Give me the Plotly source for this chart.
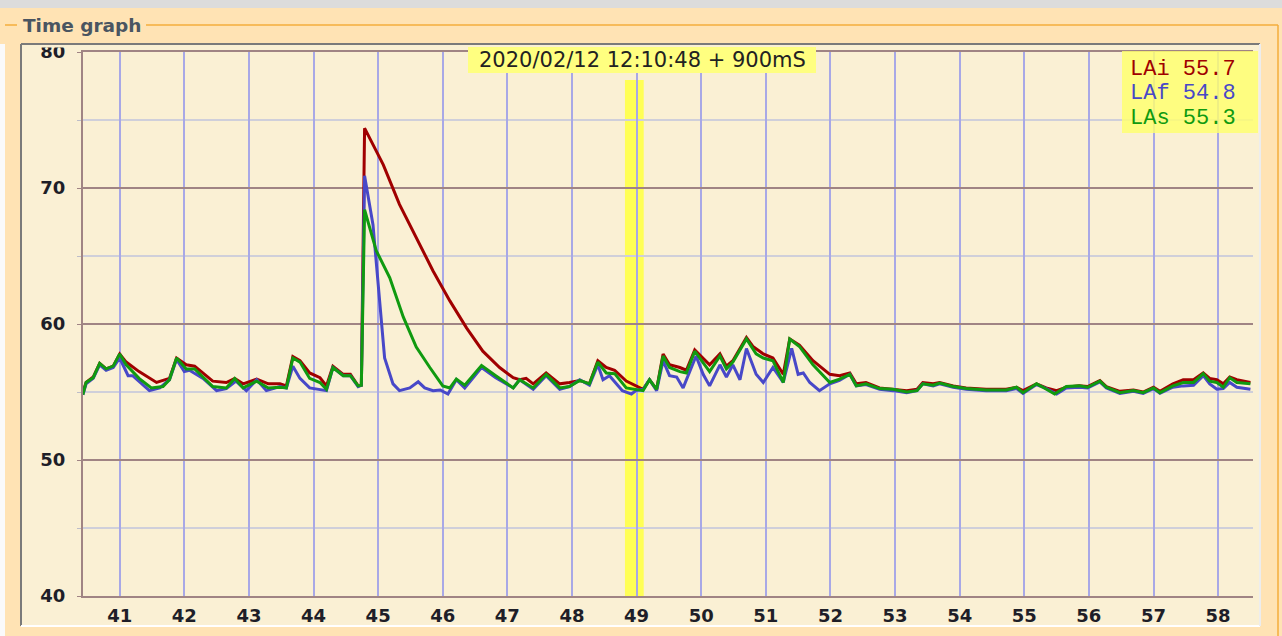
import plotly.graph_objects as go

# ---------------- data ----------------
lai_t = [40.43, 40.48, 40.59, 40.69, 40.79, 40.90, 41.00, 41.10, 41.30, 41.57, 41.77, 41.88,
         42.03, 42.16, 42.44, 42.65, 42.78, 42.91, 43.12, 43.30, 43.48, 43.58, 43.68, 43.79,
         43.94, 44.10, 44.20, 44.30, 44.46, 44.57, 44.69, 44.74, 44.79, 45.08, 45.33, 45.59,
         45.85, 46.11, 46.37, 46.62, 46.88, 47.09, 47.19, 47.29, 47.40, 47.60, 47.81, 47.96,
         48.12, 48.27, 48.40, 48.53, 48.66, 48.84, 48.99, 49.10, 49.20, 49.31, 49.41, 49.51,
         49.67, 49.77, 49.90, 50.03, 50.13, 50.29, 50.39, 50.49, 50.70, 50.80, 50.96, 51.11,
         51.27, 51.37, 51.52, 51.73, 51.99, 52.14, 52.30, 52.40, 52.55, 52.76, 52.97, 53.18,
         53.34, 53.43, 53.59, 53.69, 53.90, 54.10, 54.41, 54.72, 54.88, 54.98, 55.19, 55.34,
         55.50, 55.65, 55.85, 55.98, 56.17, 56.27, 56.48, 56.69, 56.84, 57.00, 57.10, 57.30,
         57.46, 57.62, 57.77, 57.87, 57.98, 58.08, 58.18, 58.29, 58.50]
lai_v = [55.0, 55.7, 56.1, 57.1, 56.7, 56.9, 57.8, 57.2, 56.5, 55.7, 56.0, 57.5,
         57.0, 56.9, 55.8, 55.7, 56.0, 55.6, 55.95, 55.6, 55.6, 55.45, 57.6, 57.3,
         56.4, 56.05, 55.45, 56.9, 56.3, 56.3, 55.45, 55.5, 74.4, 71.7, 68.8, 66.35,
         63.9, 61.7, 59.7, 58.0, 56.8, 56.05, 55.9, 56.0, 55.6, 56.4, 55.6, 55.7,
         55.85, 55.6, 57.3, 56.8, 56.6, 55.8, 55.45, 55.2, 55.9, 55.2, 57.8, 57.0,
         56.8, 56.6, 58.1, 57.5, 57.0, 57.8, 56.9, 57.3, 59.0, 58.35, 57.8, 57.5,
         56.3, 58.9, 58.45, 57.3, 56.3, 56.2, 56.4, 55.6, 55.7, 55.3, 55.2, 55.1,
         55.2, 55.7, 55.6, 55.7, 55.45, 55.3, 55.2, 55.2, 55.35, 55.1, 55.6, 55.3,
         55.1, 55.35, 55.45, 55.4, 55.85, 55.4, 55.05, 55.15, 55.0, 55.35, 55.05, 55.6,
         55.9, 55.9, 56.4, 56.0, 55.9, 55.6, 56.1, 55.9, 55.7]

laf_t = [40.43, 40.48, 40.59, 40.69, 40.79, 40.90, 41.00, 41.13, 41.20, 41.46, 41.62, 41.77,
         41.88, 42.00, 42.08, 42.29, 42.50, 42.65, 42.80, 42.96, 43.12, 43.27, 43.48, 43.58,
         43.68, 43.79, 43.94, 44.10, 44.20, 44.30, 44.46, 44.57, 44.69, 44.74, 44.79, 44.92,
         45.02, 45.10, 45.23, 45.33, 45.49, 45.62, 45.72, 45.85, 45.96, 46.08, 46.21, 46.34,
         46.60, 46.82, 47.09, 47.19, 47.40, 47.60, 47.81, 47.96, 48.12, 48.27, 48.40, 48.48,
         48.58, 48.78, 48.92, 48.99, 49.10, 49.20, 49.31, 49.41, 49.51, 49.62, 49.72, 49.92,
         50.03, 50.13, 50.29, 50.39, 50.49, 50.60, 50.70, 50.85, 50.96, 51.11, 51.27, 51.40,
         51.50, 51.58, 51.68, 51.83, 51.99, 52.14, 52.30, 52.40, 52.55, 52.76, 52.97, 53.18,
         53.34, 53.43, 53.59, 53.69, 53.90, 54.10, 54.41, 54.72, 54.88, 54.98, 55.19, 55.34,
         55.50, 55.65, 55.85, 55.98, 56.17, 56.27, 56.48, 56.69, 56.84, 57.00, 57.10, 57.30,
         57.46, 57.62, 57.77, 57.87, 57.98, 58.08, 58.18, 58.29, 58.50]
laf_v = [54.8, 55.6, 56.0, 57.0, 56.6, 56.8, 57.5, 56.2, 56.2, 55.1, 55.3, 55.9,
         57.4, 56.5, 56.6, 56.0, 55.1, 55.25, 55.8, 55.1, 55.9, 55.1, 55.4, 55.3,
         56.9, 56.0, 55.3, 55.2, 55.1, 56.8, 56.2, 56.2, 55.4, 55.5, 70.9, 67.3,
         61.9, 57.5, 55.6, 55.1, 55.3, 55.75, 55.3, 55.1, 55.15, 54.85, 55.9, 55.3,
         56.8, 56.05, 55.3, 55.9, 55.2, 56.2, 55.2, 55.4, 55.9, 55.5, 57.0, 55.9,
         56.2, 55.1, 54.85, 55.1, 55.2, 55.9, 55.1, 57.3, 56.2, 56.1, 55.3, 57.65,
         56.3, 55.45, 57.0, 56.1, 57.0, 55.9, 58.2, 56.3, 55.7, 56.8, 55.7, 58.2,
         56.3, 56.4, 55.7, 55.1, 55.6, 55.85, 56.3, 55.45, 55.55, 55.2, 55.1, 54.95,
         55.1, 55.6, 55.45, 55.6, 55.35, 55.2, 55.1, 55.1, 55.25, 54.9, 55.55, 55.25,
         54.85, 55.3, 55.35, 55.3, 55.75, 55.3, 54.9, 55.05, 54.9, 55.25, 54.9, 55.35,
         55.45, 55.5, 56.2, 55.6, 55.2, 55.25, 55.7, 55.35, 55.2]

las_t = [40.43, 40.48, 40.59, 40.69, 40.79, 40.90, 41.00, 41.10, 41.30, 41.49, 41.67, 41.77,
         41.88, 42.03, 42.16, 42.44, 42.65, 42.78, 42.91, 43.12, 43.30, 43.48, 43.58, 43.68,
         43.79, 43.94, 44.10, 44.20, 44.30, 44.46, 44.57, 44.69, 44.74, 44.79, 44.97, 45.18,
         45.39, 45.59, 45.80, 46.00, 46.11, 46.21, 46.34, 46.60, 46.82, 47.09, 47.19, 47.40,
         47.60, 47.81, 47.96, 48.12, 48.27, 48.40, 48.53, 48.66, 48.84, 48.99, 49.10, 49.20,
         49.31, 49.41, 49.51, 49.67, 49.77, 49.90, 50.03, 50.13, 50.29, 50.39, 50.49, 50.70,
         50.85, 50.96, 51.11, 51.27, 51.37, 51.52, 51.73, 51.99, 52.14, 52.30, 52.40, 52.55,
         52.76, 52.97, 53.18, 53.34, 53.43, 53.59, 53.69, 53.90, 54.10, 54.41, 54.72, 54.88,
         54.98, 55.19, 55.29, 55.47, 55.65, 55.85, 55.98, 56.17, 56.27, 56.48, 56.69, 56.84,
         57.00, 57.10, 57.30, 57.46, 57.62, 57.77, 57.87, 57.98, 58.08, 58.18, 58.29, 58.50]
las_v = [54.8, 55.7, 56.05, 57.1, 56.7, 56.9, 57.8, 57.0, 56.0, 55.3, 55.4, 55.9,
         57.5, 56.7, 56.7, 55.4, 55.3, 56.0, 55.3, 55.8, 55.3, 55.35, 55.3, 57.5,
         57.2, 56.0, 55.7, 55.2, 56.8, 56.2, 56.2, 55.45, 55.5, 68.4, 65.4, 63.4,
         60.5, 58.3, 56.8, 55.45, 55.3, 55.95, 55.5, 56.95, 56.2, 55.3, 55.9, 55.3,
         56.3, 55.3, 55.4, 55.85, 55.6, 57.2, 56.4, 56.35, 55.3, 55.2, 55.1, 55.9,
         55.2, 57.65, 56.8, 56.5, 56.4, 58.0, 57.1, 56.5, 57.65, 56.7, 57.2, 58.9,
         57.8, 57.5, 57.3, 55.7, 58.9, 58.35, 57.0, 55.7, 55.95, 56.3, 55.45, 55.6,
         55.25, 55.2, 55.0, 55.1, 55.6, 55.5, 55.65, 55.4, 55.25, 55.15, 55.15, 55.35,
         54.95, 55.6, 55.35, 54.85, 55.4, 55.45, 55.35, 55.8, 55.35, 54.95, 55.1, 54.95,
         55.3, 54.95, 55.45, 55.7, 55.7, 56.35, 55.8, 55.7, 55.35, 56.05, 55.7, 55.6]

series_names = ["LAi", "LAf", "LAs"]
series_current = ["55.7", "54.8", "55.3"]
x_ticks = list(range(41, 59))
y_ticks = [40, 50, 60, 70, 80]
cursor_time = [48.82, 49.11]
timestamp = "2020/02/12 12:10:48 + 900mS"
panel_title = "Time graph"

# ---------------- styles ----------------
W, H = 1282, 636
L, R, T, B = 83, 1253, 52, 596
RED, BLUE, GREEN = "#A00000", "#4848C8", "#109A10"
ORANGE_BG = "#FFE3B4"
PANEL_BG = "#FAF0D4"
BROWN = "#A08484"


def px(x):
    return (x - L) / (R - L)


def py(y):
    return (B - y) / (B - T)


fig = go.Figure()
for t, v, c in [(lai_t, lai_v, RED), (laf_t, laf_v, BLUE), (las_t, las_v, GREEN)]:
    fig.add_trace(go.Scatter(x=t, y=v, mode="lines", line=dict(color=c, width=3),
                             showlegend=False, hoverinfo="skip"))

shapes = []
# panel background
shapes.append(dict(type="rect", xref="paper", yref="paper", layer="below",
                   x0=px(21), x1=px(1260), y0=py(626), y1=py(44),
                   fillcolor=PANEL_BG, line=dict(width=0)))
# cursor band
shapes.append(dict(type="rect", xref="x", yref="y", layer="below",
                   x0=cursor_time[0], x1=cursor_time[1], y0=40, y1=77.94,
                   fillcolor="#FFFF55", line=dict(width=0)))
# top cover (clips the "80" label) and grey strip
shapes.append(dict(type="rect", xref="paper", yref="paper", layer="above",
                   x0=px(0), x1=px(W), y0=py(44), y1=py(8),
                   fillcolor=ORANGE_BG, line=dict(width=0)))
shapes.append(dict(type="rect", xref="paper", yref="paper", layer="above",
                   x0=px(22), x1=px(78), y0=py(47.5), y1=py(44),
                   fillcolor=PANEL_BG, line=dict(width=0)))
shapes.append(dict(type="rect", xref="paper", yref="paper", layer="above",
                   x0=px(0), x1=px(W), y0=py(8), y1=py(0),
                   fillcolor="#DCDCDC", line=dict(width=0)))
# left white strip
shapes.append(dict(type="rect", xref="paper", yref="paper", layer="below",
                   x0=px(0), x1=px(5), y0=py(H), y1=py(8),
                   fillcolor="#FAFAFA", line=dict(width=0)))
# group box lines
for (x0, y0, x1, y1) in [(5, 25, 17, 25), (146, 25, 1278, 25), (1278, 25, 1278, H)]:
    shapes.append(dict(type="line", xref="paper", yref="paper", layer="above",
                       x0=px(x0), x1=px(x1), y0=py(y0), y1=py(y1),
                       line=dict(color="#F5AE3C", width=1.5)))
# panel sunken border
for (x0, y0, x1, y1, c) in [(21, 44, 1260, 44, "#7A7A7A"), (21, 44, 21, 626, "#7A7A7A"),
                             (21, 626, 1260, 626, "#FFFFFF"), (1260, 44, 1260, 626, "#EDEDED")]:
    shapes.append(dict(type="line", xref="paper", yref="paper", layer="above",
                       x0=px(x0), x1=px(x1), y0=py(y0), y1=py(y1),
                       line=dict(color=c, width=2)))
# timestamp box
shapes.append(dict(type="rect", xref="paper", yref="paper", layer="above",
                   x0=px(468), x1=px(816), y0=py(73), y1=py(47),
                   fillcolor="#FFFF80", line=dict(width=0)))
# legend box
shapes.append(dict(type="rect", xref="paper", yref="paper", layer="above",
                   x0=px(1122), x1=px(1258), y0=py(133), y1=py(51),
                   fillcolor="rgba(255,255,110,0.82)", line=dict(width=0)))

annotations = [
    dict(text=f"<b>{panel_title}</b>", xref="paper", yref="paper", x=px(21), y=py(25),
         xanchor="left", yanchor="middle", showarrow=False,
         font=dict(family="DejaVu Sans", size=18.5, color="#4A5561")),
    dict(text=timestamp, xref="paper", yref="paper", x=px(642), y=py(60),
         xanchor="center", yanchor="middle", showarrow=False,
         font=dict(family="DejaVu Sans", size=21, color="#222222")),
]
for i, (n, val, c) in enumerate(zip(series_names, series_current, [RED, BLUE, GREEN])):
    annotations.append(dict(text=f"{n} {val}", xref="paper", yref="paper",
                            x=px(1128), y=py(69 + 24.5 * i), xanchor="left", yanchor="middle",
                            showarrow=False,
                            font=dict(family="Liberation Mono", size=22, color=c)))

fig.update_layout(
    template="none",
    width=W, height=H,
    margin=dict(l=L, r=W - R, t=T, b=H - B, pad=0, autoexpand=False),
    paper_bgcolor=ORANGE_BG, plot_bgcolor=PANEL_BG,
    shapes=shapes, annotations=annotations,
    showlegend=False,
    xaxis=dict(range=[40.432, 58.54], tickmode="array", tickvals=x_ticks,
               ticktext=[str(v) for v in x_ticks], automargin=False,
               showgrid=True, gridcolor="#A8A8E6", gridwidth=2,
               zeroline=False, showline=True, mirror=True, linecolor=BROWN, linewidth=2,
               ticks="", ticklabelstandoff=2,
               tickfont=dict(family="DejaVu Sans", size=18, color="#1E1E28", weight="bold")),
    yaxis=dict(range=[40, 80], tickmode="array", tickvals=y_ticks, automargin=False,
               showgrid=True, gridcolor=BROWN, gridwidth=2,
               minor=dict(dtick=5, tick0=40, showgrid=True, gridcolor="#CFCFDA", gridwidth=1.5,
                          ticks="outside", ticklen=4, tickcolor="#BDBDC8"),
               zeroline=False, showline=True, linecolor=BROWN, linewidth=2,
               ticks="outside", ticklen=4, tickcolor=BROWN, ticklabelstandoff=8,
               tickfont=dict(family="DejaVu Sans", size=18, color="#1E1E28", weight="bold")),
)

fig.write_html("out.html")
